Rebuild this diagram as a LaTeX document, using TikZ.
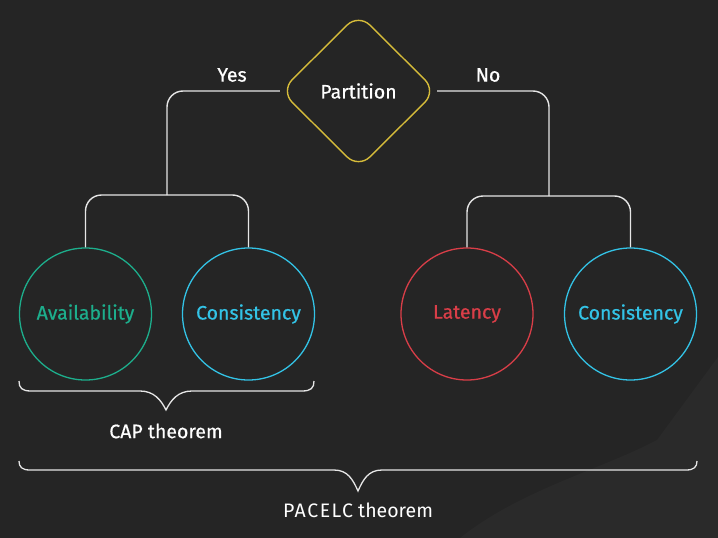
\documentclass[tikz,border=0pt]{standalone}
\usepackage{fontspec}
\setmainfont{Fira Sans}
\usetikzlibrary{shapes.geometric}
\definecolor{bg}{HTML}{252525}
\definecolor{bglight}{HTML}{2A2A2A}
\definecolor{linec}{HTML}{E6E6E6}
\definecolor{teal}{HTML}{1DAE8C}
\definecolor{cyanc}{HTML}{33C3E6}
\definecolor{redc}{HTML}{D93E48}
\definecolor{yellowc}{HTML}{D6BC3A}
\newcommand{\medw}{\addfontfeature{FakeBold=0.6}}
\begin{document}
\begin{tikzpicture}[x=1pt,y=-1pt,
  conn/.style={draw=linec, line width=1.4pt, rounded corners=16pt},
  circ/.style={circle, draw=#1, text=#1, line width=1.3pt, minimum size=132pt, inner sep=0pt, font=\fontsize{19.5}{22}\selectfont\medw},
  lbl/.style={text=white, font=\fontsize{19.5}{22}\selectfont\medw},
  bracec/.style={draw=linec, line width=1.3pt}
]
\useasboundingbox (0,0) rectangle (718,538);
\fill[bg] (0,0) rectangle (718,538);
\fill[bglight] (718,357) -- (657,440) .. controls (600,470) and (520,490) .. (460,538) -- (718,538) -- cycle;

\node[diamond, draw=yellowc, line width=1.4pt, minimum width=156pt, minimum height=155pt, inner sep=0pt, rounded corners=16pt, lbl] (part) at (358.5,91) {Partition};

\node[circ=teal] (av) at (85.5,314) {Availability};
\node[circ=cyanc] (c1) at (248.5,314) {Consistency};
\node[circ=redc] (lat) at (467,314) {Latency};
\node[circ=cyanc] (c2) at (630.5,314) {Consistency};

\coordinate (jl) at (167,195);
\coordinate (jr) at (549,196);

\draw[conn] (part.west) -| (jl);
\draw[conn] (part.east) -| (jr);
\draw[conn] (av.north) |- (jl) -| (c1.north);
\draw[conn] (lat.north) |- (jr) -| (c2.north);

\node[lbl] (yes) at (232,75) {Yes};
\node[lbl] (no) at (488,75) {No};

% CAP brace
\draw[bracec] (19,381) .. controls (19,388) and (22,391) .. (31,391) -- (140,391)
  .. controls (154,391) and (161,400) .. (166,410)
  .. controls (171,400) and (178,391) .. (192,391) -- (302,391)
  .. controls (311,391) and (314,388) .. (314,381);
\node[lbl] (cap) at (166,431) {CAP theorem};

% PACELC brace
\draw[bracec] (19,461) .. controls (19,467) and (22,470) .. (30,470) -- (334,470)
  .. controls (348,470) and (353,480) .. (358,491)
  .. controls (363,480) and (368,470) .. (382,470) -- (686,470)
  .. controls (694,470) and (697,467) .. (697,461);
\node[text=white, font=\fontsize{19.5}{22}\selectfont] (pacelc) at (358,510) {{\addfontfeature{LetterSpace=8}PACELC} theorem};
\end{tikzpicture}
\end{document}
